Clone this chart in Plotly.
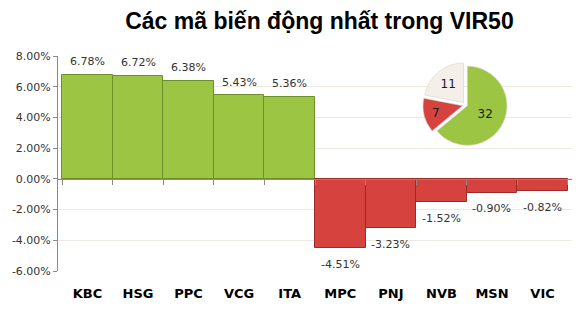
import plotly.graph_objects as go

categories = ["KBC", "HSG", "PPC", "VCG", "ITA", "MPC", "PNJ", "NVB", "MSN", "VIC"]
changes = [6.78, 6.72, 6.38, 5.43, 5.36, -4.51, -3.23, -1.52, -0.90, -0.82]
pie_labels = ["Tăng", "Giảm", "Đứng giá"]
pie_values = [32, 7, 11]
y_ticks = [8, 6, 4, 2, 0, -2, -4, -6]

GREEN = "#9cc544"
GREEN_LINE = "#6e8f2c"
RED = "#d6433f"
RED_LINE = "#9c2b28"

bar_colors = [GREEN if v >= 0 else RED for v in changes]
bar_lines = [GREEN_LINE if v >= 0 else RED_LINE for v in changes]

fig = go.Figure()
fig.add_trace(go.Bar(
    x=categories, y=changes,
    marker=dict(color=bar_colors, line=dict(color=bar_lines, width=1)),
    showlegend=False, hoverinfo="skip",
))
# invisible trace to carry the category axis drawn at y = 0
fig.add_trace(go.Scatter(
    x=categories, y=[0] * len(categories), xaxis="x2", yaxis="y",
    mode="markers", marker=dict(opacity=0), showlegend=False, hoverinfo="skip",
))
fig.add_trace(go.Pie(
    labels=pie_labels, values=pie_values, sort=False, direction="clockwise",
    rotation=0, pull=[0.05, 0.08, 0.08],
    marker=dict(colors=[GREEN, RED, "#f4f0e9"], line=dict(color="#d9d2c6", width=0.6)),
    textinfo="value", textposition="inside", insidetextorientation="horizontal",
    textfont=dict(family="DejaVu Sans", size=12, color="#1a1a1a"),
    domain=dict(x=[0.710, 0.876], y=[0.560, 0.985]),
    showlegend=False, hoverinfo="skip",
))

# value labels above / below bars
for c, v in zip(categories, changes):
    fig.add_annotation(
        x=c, y=v, xref="x", yref="y", text=f"{v:.2f}%", showarrow=False,
        yanchor="middle", yshift=13 if v >= 0 else -16,
        font=dict(family="DejaVu Sans", size=11, color="#333333"),
    )

ymin, ymax = -6, 8
fig.update_layout(
    width=578, height=312,
    margin=dict(l=58, r=6, t=56, b=41),
    paper_bgcolor="white", plot_bgcolor="white",
    bargap=0,
    title=dict(text="<b>Các mã biến động nhất trong VIR50</b>",
               font=dict(family="Liberation Sans", size=23, color="#000000"),
               x=294 / 578, xanchor="center", y=1 - 21 / 312, yanchor="middle",
               xref="paper", yref="container"),
    xaxis=dict(
        type="category", showline=False, showgrid=False, zeroline=False,
        ticks="outside", ticklen=10, tickcolor="rgba(0,0,0,0)",
        tickfont=dict(family="DejaVu Sans", size=13, color="#000000", weight="bold"),
    ),
    xaxis2=dict(
        type="category", overlaying="x", matches="x", anchor="free",
        position=(0 - ymin) / (ymax - ymin),
        showline=True, linecolor="#8a8a8a", linewidth=1,
        ticks="outside", tickson="boundaries", ticklen=5, tickcolor="#8a8a8a",
        showticklabels=False, showgrid=False, zeroline=False,
    ),
    yaxis=dict(
        range=[ymin, ymax], tickvals=y_ticks,
        ticktext=[f"{v:.2f}%" for v in y_ticks],
        showline=True, linecolor="#8a8a8a", linewidth=1,
        ticks="outside", ticklen=4, tickcolor="#8a8a8a",
        showgrid=True, gridcolor="#efe9e1", gridwidth=1, zeroline=False,
        tickfont=dict(family="DejaVu Sans", size=11, color="#333333"),
    ),
)

fig.write_html("out.html")
